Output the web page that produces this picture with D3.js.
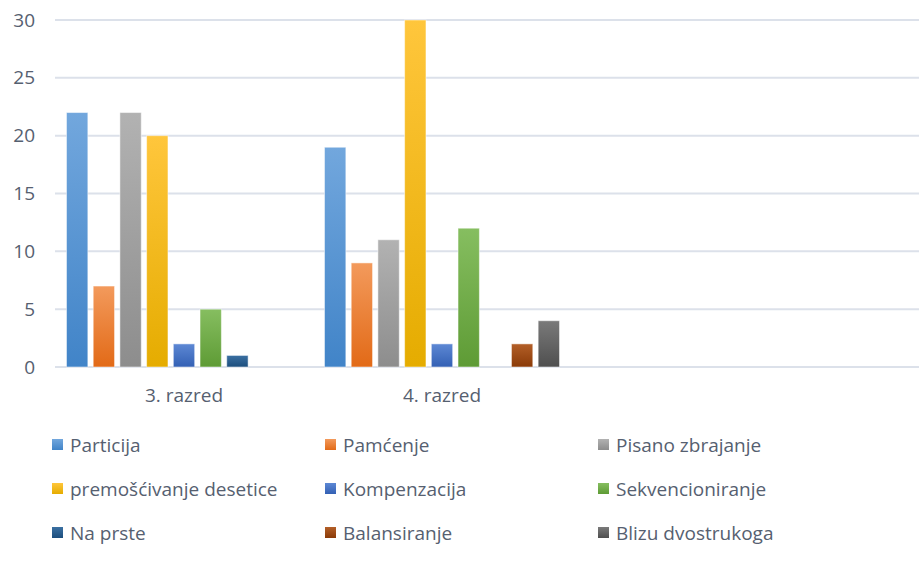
<!DOCTYPE html>
<html lang="hr">
<head>
    <meta charset="UTF-8">
    <title>razred</title>
    <script src="https://cdn.jsdelivr.net/npm/d3@7"></script>
    <style>
        * { padding: 0; margin: 0; }
        body { background: #fff; }
        svg { display: block; }
        text { font-family: "Open Sans", Lato, sans-serif; fill: #566070; }
    </style>
</head>
<body>
    <div class="context"></div>
    <script>
        // podaci
        let categories = ["3. razred", "4. razred", ""];
        let series = ["Particija", "Pamćenje", "Pisano zbrajanje", "premošćivanje desetice",
            "Kompenzacija", "Sekvencioniranje", "Na prste", "Balansiranje", "Blizu dvostrukoga"];
        let values3 = [22, 7, 22, 20, 2, 5, 1, 0, 0];
        let values4 = [19, 9, 11, 30, 2, 12, 0, 2, 4];
        let yTicks = [0, 5, 10, 15, 20, 25, 30];

        // boje: [gore, dolje]
        let colors = [
            ["#72a7dd", "#4184c8"],
            ["#f39a5c", "#e26a17"],
            ["#b2b2b2", "#8d8d8d"],
            ["#ffc63c", "#e5ac00"],
            ["#5d88d4", "#3360b4"],
            ["#86be60", "#5e9b35"],
            ["#3b70a2", "#1c4e7d"],
            ["#b35f28", "#8a3a07"],
            ["#7a7a7a", "#4f4f4f"]
        ];

        let W = 919, H = 561;
        let fs = "19px";
        let svg = d3.select(".context").append("svg")
            .attr("width", W).attr("height", H);

        let defs = svg.append("defs");
        colors.forEach((c, i) => {
            let g = defs.append("linearGradient").attr("id", "g" + i)
                .attr("x1", 0).attr("y1", 0).attr("x2", 0).attr("y2", 1);
            g.append("stop").attr("offset", "0%").attr("stop-color", c[0]);
            g.append("stop").attr("offset", "100%").attr("stop-color", c[1]);
        });

        let left = 55;
        let x0 = d3.scaleBand().domain(categories).range([left, left + 258 * categories.length]);
        let x1 = d3.scaleBand().domain(series).range([0, x0.bandwidth()])
            .paddingInner(0.2).paddingOuter(0.43);
        let y = d3.scaleLinear().domain([0, 30]).range([367, 20]);

        // mreža
        svg.append("g").selectAll("line").data(yTicks).enter().append("line")
            .attr("x1", left).attr("x2", W)
            .attr("y1", d => y(d)).attr("y2", d => y(d))
            .attr("stroke", "#dce1ea").attr("stroke-width", 2);

        // y oznake
        let yAxis = d3.axisLeft(y).tickValues(yTicks).tickSize(0).tickPadding(0);
        let ya = svg.append("g").attr("transform", "translate(35,0)").call(yAxis);
        ya.select(".domain").remove();
        ya.selectAll("text").style("font-size", fs).attr("fill", "#566070")
            .style("font-family", "'Open Sans', sans-serif");

        // stupci
        let rows = [values3, values4];
        rows.forEach((vals, ci) => {
            let g = svg.append("g").attr("transform", "translate(" + x0(categories[ci]) + ",0)");
            g.selectAll("rect").data(vals.map((v, i) => ({ v: v, i: i })).filter(d => d.v > 0))
                .enter().append("rect")
                .attr("x", d => x1(series[d.i]))
                .attr("width", x1.bandwidth())
                .attr("y", d => y(d.v))
                .attr("height", d => y(0) - y(d.v))
                .attr("fill", d => "url(#g" + d.i + ")")
                .attr("stroke", "#ffffff").attr("stroke-opacity", 0.5).attr("stroke-width", 1);
        });

        // x oznake
        svg.append("g").selectAll("text").data(categories.filter(c => c)).enter().append("text")
            .attr("x", d => x0(d) + x0.bandwidth() / 2)
            .attr("y", 402)
            .attr("text-anchor", "middle")
            .style("font-size", fs)
            .text(d => d);

        // legenda
        let leg = svg.append("g").selectAll("g").data(series).enter().append("g")
            .attr("transform", (d, i) => "translate(" + (52 + (i % 3) * 273) + "," + (445 + Math.floor(i / 3) * 44) + ")");
        leg.append("rect").attr("x", 0).attr("y", -6).attr("width", 11).attr("height", 11)
            .attr("fill", (d, i) => "url(#g" + i + ")");
        leg.append("text").attr("x", 18).attr("y", 7)
            .style("font-size", fs)
            .text(d => d);
    </script>
</body>
</html>
